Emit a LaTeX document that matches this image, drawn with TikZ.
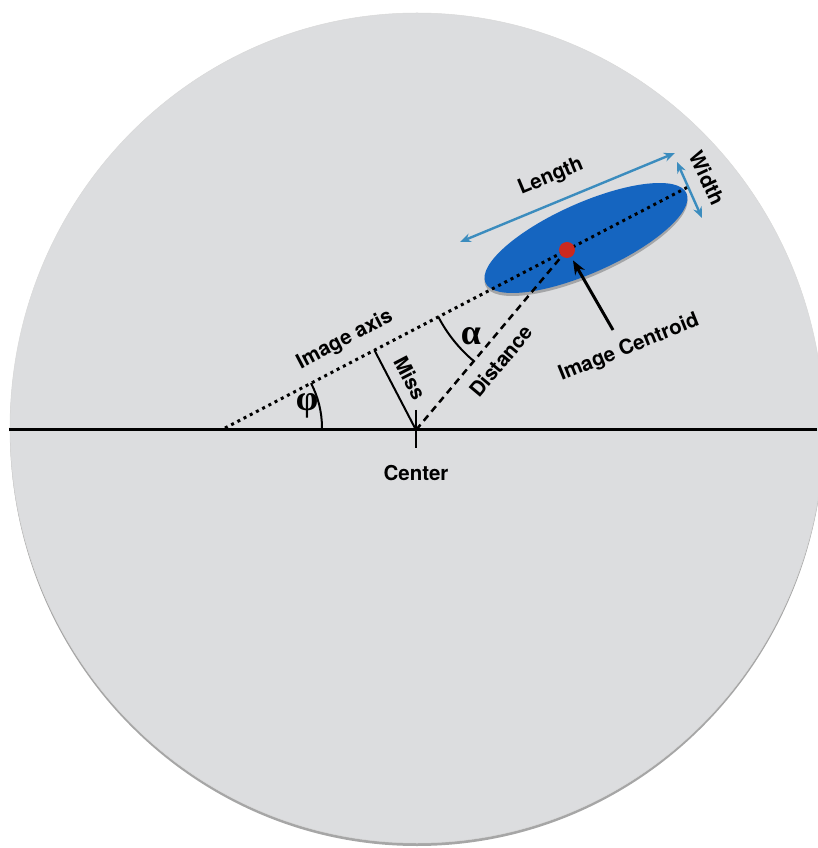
\documentclass[tikz,border=0pt]{standalone}
\usepackage{fontspec}
\setmainfont{TeX Gyre Heros}
\newfontfamily\greekfont{Liberation Serif}
\usetikzlibrary{arrows.meta,calc}
\definecolor{discgray}{RGB}{220,221,223}
\definecolor{imgblue}{RGB}{21,101,192}
\definecolor{dotred}{RGB}{204,41,31}
\definecolor{sizeblue}{RGB}{59,140,190}
\begin{document}
\begin{tikzpicture}[x=1pt, y=1pt,
    lbl/.style={font=\fontsize{20.5}{24}\selectfont\bfseries, inner sep=0pt},
    greek/.style={font=\fontsize{36}{36}\selectfont\greekfont\bfseries, inner sep=0pt},
    sizearrow/.style={{Stealth[length=11pt,width=9pt]}-{Stealth[length=11pt,width=9pt]}, sizeblue, line width=2.4pt}]
    \useasboundingbox (-416,-418) rectangle (401,430);

    % camera disc, with a soft edge below
    \fill[black!35] (1,-1) ellipse [x radius=407, y radius=415];
    \fill[discgray, draw=black!15, line width=0.5pt] (1,2) ellipse [x radius=407, y radius=415];

    \coordinate (O) at (0,0);
    \coordinate (hl) at (-407,0);
    \coordinate (hr) at (401,0);
    \coordinate (A) at (-191,2);
    \coordinate (C) at (151,180);
    \coordinate (E) at (272,243);
    \coordinate (F) at ($(A)!(O)!(C)$);

    % the image itself
    \fill[black, opacity=0.25, rotate around={24:(170,189)}] (170,189) ellipse [x radius=110, y radius=35];
    \fill[imgblue, rotate around={24:(170,192)}] (170,192) ellipse [x radius=110, y radius=35];

    \draw[line width=3pt] (hl) -- (hr);
    \draw[line width=2.5pt] (O) ++(0,20) -- ++(0,-38);
    \node[lbl] (center) at (0,-43) {Center};

    % image axis, miss and distance
    \draw[line width=3pt, dash pattern=on 3pt off 4pt] (A) -- (E);
    \draw[line width=2pt] (F) -- (O);
    \draw[line width=2.5pt, dash pattern=on 7pt off 5pt] (O) -- (C);

    % angles
    \draw[line width=2pt] ($(A)+(97,0)$) arc[start angle=0, end angle=27.5, radius=97];
    \draw[line width=2pt] ($(C)+(207.5:145)$) arc[start angle=207.5, end angle=230, radius=145];
    \node[greek] (phi) at (-109,24) {φ};
    \node[greek] (alpha) at (55,94) {α};

    \fill[dotred] (C) circle (8);

    % length and width
    \coordinate (L1) at (44,188);
    \coordinate (L2) at (259,277);
    \coordinate (W1) at (261,268);
    \coordinate (W2) at (286,212);
    \draw[sizearrow] (L1) -- (L2);
    \draw[sizearrow] (W1) -- (W2);

    \node[lbl, rotate=27.5] (axislbl) at (-71,90) {Image axis};
    \node[lbl, rotate=-62.5] (misslbl) at (-6,52) {Miss};
    \node[lbl, rotate=50] (distlbl) at (85,69) {Distance};
    \node[lbl, rotate=22.5] (lenlbl) at (135,253) {Length};
    \node[lbl, rotate=-65] (widlbl) at (291,252) {Width};

    % centroid pointer
    \node[lbl, rotate=22] (centlbl) at (213,82) {Image Centroid};
    \coordinate (ctail) at (197,100);
    \draw[-{Stealth[length=14pt,width=11pt]}, line width=3pt] (ctail) -- ($(C)!12pt!(ctail)$);
\end{tikzpicture}
\end{document}
